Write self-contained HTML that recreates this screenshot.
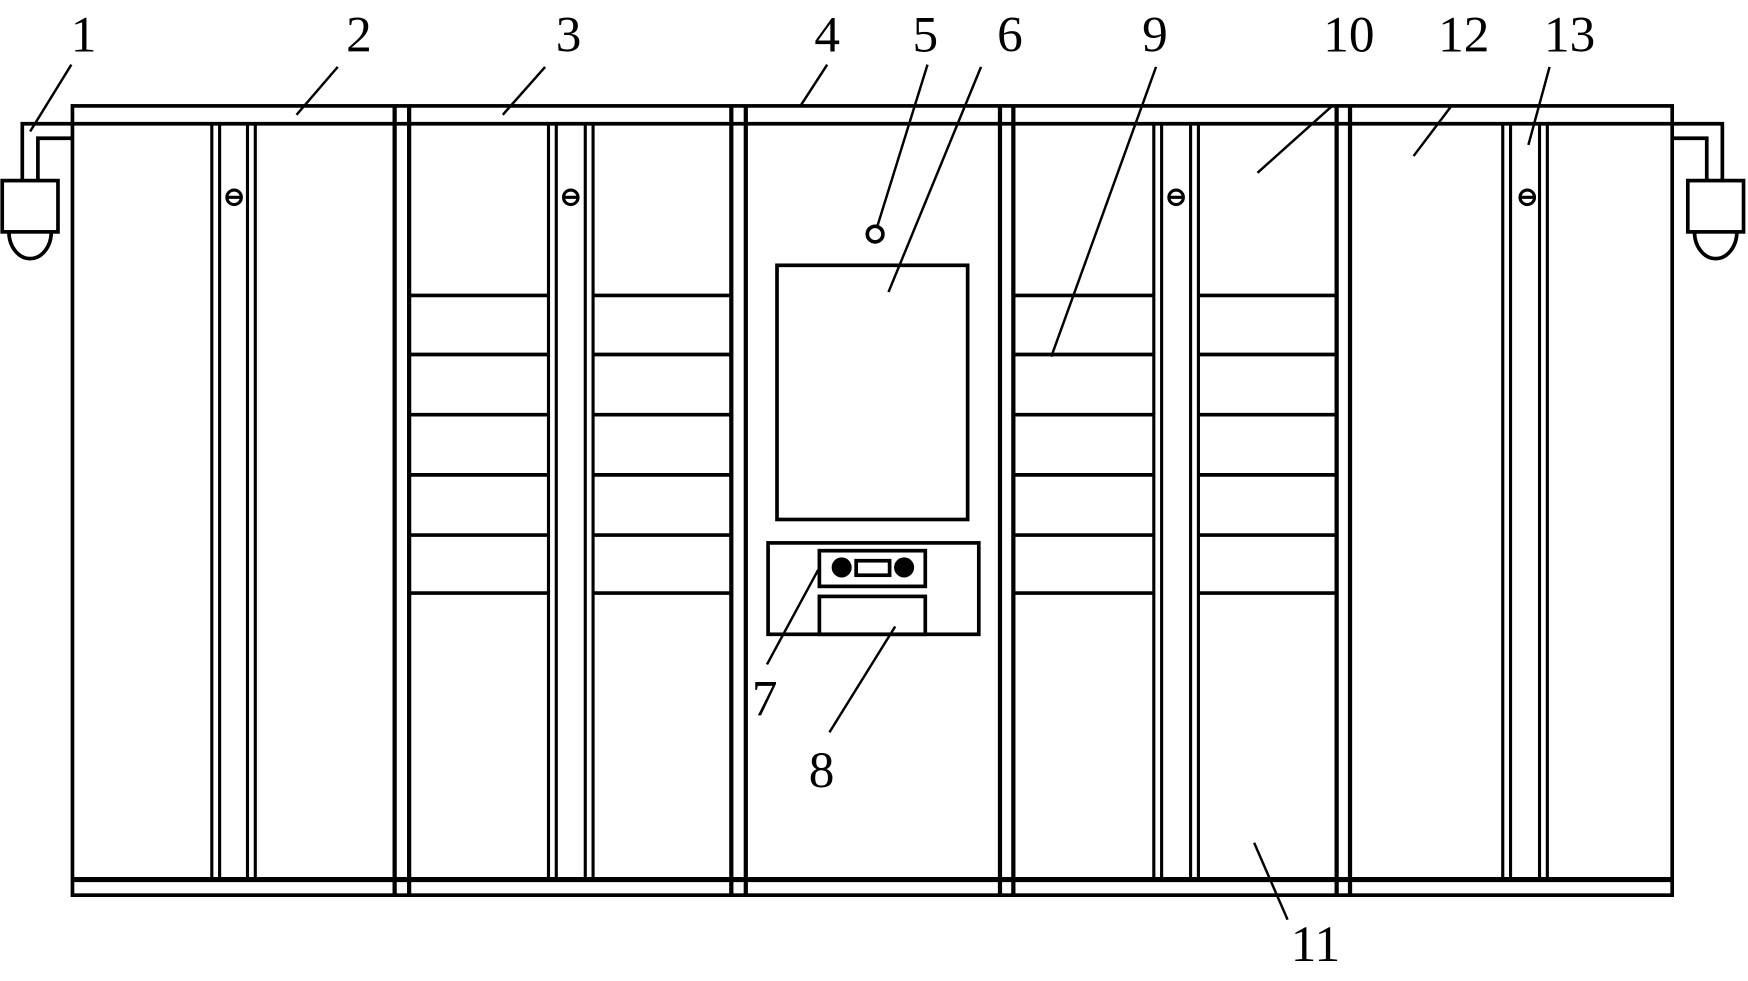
<!DOCTYPE html>
<html><head><meta charset="utf-8"><style>html,body{margin:0;padding:0;background:#fff}svg{display:block}</style></head><body>
<svg width="1748" height="981" viewBox="0 0 1568 880" preserveAspectRatio="none" xmlns="http://www.w3.org/2000/svg">
<g fill="none" stroke="#000" stroke-width="3.3">
<!-- frame -->
<rect x="65" y="95" width="1435" height="708"/>
<line x1="65" y1="111" x2="1500" y2="111"/>
<line x1="65" y1="789" x2="1500" y2="789" stroke-width="4.5"/>
<!-- dividers -->
<g stroke-width="3.8">
<line x1="354" y1="95" x2="354" y2="803"/><line x1="367" y1="95" x2="367" y2="803"/>
<line x1="656" y1="95" x2="656" y2="803"/><line x1="669" y1="95" x2="669" y2="803"/>
<line x1="897" y1="95" x2="897" y2="803"/><line x1="909" y1="95" x2="909" y2="803"/>
<line x1="1199" y1="95" x2="1199" y2="803"/><line x1="1211" y1="95" x2="1211" y2="803"/>
</g>
<!-- stiles -->
<g stroke-width="2.8">
<line x1="190" y1="111" x2="190" y2="789"/><line x1="197" y1="111" x2="197" y2="789"/>
<line x1="222" y1="111" x2="222" y2="789"/><line x1="229" y1="111" x2="229" y2="789"/>
<line x1="492" y1="111" x2="492" y2="789"/><line x1="499" y1="111" x2="499" y2="789"/>
<line x1="525" y1="111" x2="525" y2="789"/><line x1="532" y1="111" x2="532" y2="789"/>
<line x1="1035" y1="111" x2="1035" y2="789"/><line x1="1042" y1="111" x2="1042" y2="789"/>
<line x1="1068" y1="111" x2="1068" y2="789"/><line x1="1075" y1="111" x2="1075" y2="789"/>
<line x1="1348" y1="111" x2="1348" y2="789"/><line x1="1355" y1="111" x2="1355" y2="789"/>
<line x1="1381" y1="111" x2="1381" y2="789"/><line x1="1388" y1="111" x2="1388" y2="789"/>
</g>
<!-- locks -->
<g stroke-width="2.8">
<circle cx="210" cy="177" r="6.5"/><line x1="203" y1="177" x2="217" y2="177"/>
<circle cx="512" cy="177" r="6.5"/><line x1="505" y1="177" x2="519" y2="177"/>
<circle cx="1055" cy="177" r="6.5"/><line x1="1048" y1="177" x2="1062" y2="177"/>
<circle cx="1370" cy="177" r="6.5"/><line x1="1363" y1="177" x2="1377" y2="177"/>
</g>
<!-- compartments -->
<g stroke-width="3.3">
<path d="M367 265H492M532 265H655M909 265H1035M1075 265H1198"/>
<path d="M367 318H492M532 318H655M909 318H1035M1075 318H1198"/>
<path d="M367 372H492M532 372H655M909 372H1035M1075 372H1198"/>
<path d="M367 426H492M532 426H655M909 426H1035M1075 426H1198"/>
<path d="M367 480H492M532 480H655M909 480H1035M1075 480H1198"/>
<path d="M367 532H492M532 532H655M909 532H1035M1075 532H1198"/>
</g>
<!-- center console -->
<circle cx="785" cy="210" r="7"/>
<rect x="697" y="238" width="171" height="228"/>
<rect x="689" y="487" width="189" height="82"/>
<rect x="735" y="494" width="95" height="32"/>
<rect x="768" y="503" width="30" height="13"/>
<rect x="735" y="535" width="95" height="34"/>
<!-- cameras -->
<path d="M65 111H20V162M65 124H34V162"/>
<rect x="2" y="162" width="50" height="46"/>
<path d="M8 208A19 24 0 0 0 46 208"/>
<path d="M1500 111H1545V162M1500 124H1531V162"/>
<rect x="1514" y="162" width="50" height="46"/>
<path d="M1520 208A19 24 0 0 0 1558 208"/>
</g>
<circle cx="755" cy="509" r="9" fill="#000"/>
<circle cx="811" cy="509" r="9" fill="#000"/>
<!-- leaders -->
<g stroke="#000" stroke-width="2.2" fill="none">
<line x1="64" y1="58" x2="27" y2="118"/>
<line x1="303" y1="60" x2="266" y2="103"/>
<line x1="489" y1="60" x2="451" y2="103"/>
<line x1="742" y1="58" x2="718" y2="95"/>
<line x1="832" y1="58" x2="787" y2="203"/>
<line x1="880" y1="60" x2="797" y2="262"/>
<line x1="1037" y1="60" x2="943" y2="320"/>
<line x1="1195" y1="95" x2="1128" y2="155"/>
<line x1="1302" y1="95" x2="1268" y2="140"/>
<line x1="1390" y1="60" x2="1371" y2="130"/>
<line x1="734" y1="511" x2="688" y2="596"/>
<line x1="803" y1="562" x2="744" y2="657"/>
<line x1="1125" y1="756" x2="1155" y2="825"/>
</g>
<g font-family="Liberation Serif, serif" font-size="46" text-anchor="middle" fill="#000">
<text x="75" y="46">1</text>
<text x="322" y="46">2</text>
<text x="510" y="46">3</text>
<text x="742" y="46">4</text>
<text x="830" y="46">5</text>
<text x="906" y="46">6</text>
<text x="1036" y="46">9</text>
<text x="1210" y="46">10</text>
<text x="1313" y="46">12</text>
<text x="1408" y="46">13</text>
<text x="686" y="642">7</text>
<text x="737" y="706">8</text>
<text x="1180" y="862">11</text>
</g>
</svg>
</body></html>
